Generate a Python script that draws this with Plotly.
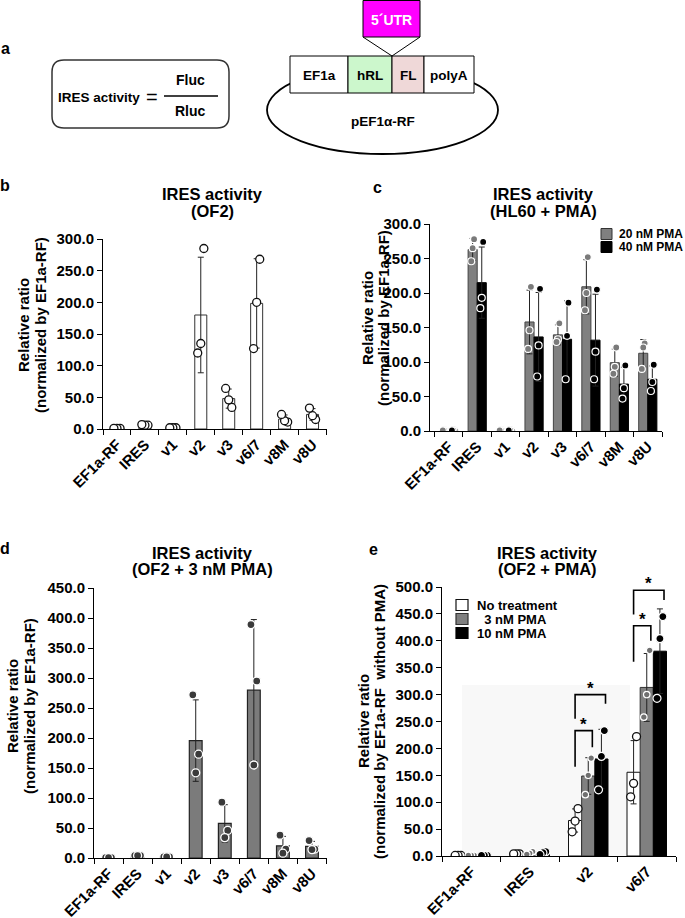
import numpy as np
import plotly.graph_objects as go

W, H = 685, 918

# ---------------- data (replicate values) ----------------
b_categories = ["EF1a-RF", "IRES", "v1", "v2", "v3", "v6/7", "v8M", "v8U"]
b_of2 = [[1, 1, 1], [6, 6, 7], [2, 2, 2], [285, 135, 120], [34, 46, 64],
         [268, 200, 127], [11, 13, 23], [15, 21, 33]]

c_categories = ["EF1a-RF", "IRES", "v1", "v2", "v3", "v6/7", "v8M", "v8U"]
c_series = ["20 nM PMA", "40 nM PMA"]
c_pma20 = [[1, 1, 1], [278, 265, 246], [1, 1, 1], [209, 146, 119], [156, 133, 129],
           [252, 200, 175], [121, 93, 83], [127, 121, 90]]
c_pma40 = [[1, 1, 1], [274, 193, 178], [1, 1, 1], [206, 124, 79], [186, 138, 75],
           [205, 115, 75], [95, 62, 47], [96, 71, 58]]

d_categories = ["EF1a-RF", "IRES", "v1", "v2", "v3", "v6/7", "v8M", "v8U"]
d_pma3 = [[0.5, 0.5, 0.5], [4, 4, 4], [2, 2, 2], [272, 173, 142], [93, 46, 34],
          [389, 295, 155], [38, 15, 8], [29, 15, 14]]

e_categories = ["EF1a-RF", "IRES", "v2", "v6/7"]
e_series = ["No treatment", "\u00a0\u00a03 nM PMA", "10 nM PMA"]
e_none = [[1, 1, 1], [4, 4, 4], [88, 65, 45], [222, 135, 110]]
e_pma3 = [[1, 1, 1], [8, 5, 3], [182, 150, 114], [382, 300, 258]]
e_pma10 = [[1, 1, 1], [8, 6, 3], [233, 185, 123], [445, 404, 293]]

# significance brackets in panel e
e_sig_category = ["v2", "v2", "v6/7", "v6/7"]
e_sig_pair = [(0, 1), (0, 2), (0, 1), (0, 2)]
e_sig_top = [233, 300, 428, 494]
e_sig_left_foot = [166, 255, 361, 449]
e_sig_right_foot = [202, 283, 400, 476]
e_sig_label = ["*", "*", "*", "*"]

y_ticks_b = [0, 50, 100, 150, 200, 250, 300]
y_ticks_c = [0, 50, 100, 150, 200, 250, 300]
y_ticks_d = [0, 50, 100, 150, 200, 250, 300, 350, 400, 450]
y_ticks_e = [0, 50, 100, 150, 200, 250, 300, 350, 400, 450, 500]

# ---------------- helpers ----------------
FONT = "Liberation Sans, Arial, Helvetica, sans-serif"


def px(x):
    return x / W


def py(y):
    return 1 - y / H


fig = go.Figure()


def add_panel(xa, ya, cats, series, centers, width, bar_styles, pt_styles, jit):
    n = len(cats)
    xs = list(range(n))
    stats = []
    for reps in series:
        means = [float(np.mean(r)) for r in reps]
        sds = [float(np.std(r, ddof=1)) for r in reps]
        stats.append((means, sds))
    for (means, sds), cen, bs in zip(stats, centers, bar_styles):
        fig.add_trace(go.Bar(x=xs, y=means, width=width, offset=cen - width / 2,
                             marker=dict(color=bs[0], line=dict(color=bs[1], width=bs[2])),
                             xaxis=xa, yaxis=ya, showlegend=False, hoverinfo="skip"))
    for (means, sds), cen in zip(stats, centers):
        fig.add_trace(go.Scatter(x=[i + cen for i in xs], y=means, mode="markers",
                                 marker=dict(size=1, color="rgba(0,0,0,0)"),
                                 error_y=dict(type="data", array=sds, visible=True,
                                              color="#222", thickness=1, width=3),
                                 xaxis=xa, yaxis=ya, showlegend=False, hoverinfo="skip"))
    for reps, cen, ps in zip(series, centers, pt_styles):
        px_, py_ = [], []
        for i, r in enumerate(reps):
            for k, v in enumerate(r):
                px_.append(i + cen + jit[k % len(jit)])
                py_.append(v)
        fig.add_trace(go.Scatter(x=px_, y=py_, mode="markers",
                                 marker=dict(size=ps[2], color=ps[0],
                                             line=dict(color=ps[1], width=ps[3])),
                                 xaxis=xa, yaxis=ya, showlegend=False, hoverinfo="skip"))


# panel b
add_panel("x", "y", b_categories, [b_of2], [0.0], 0.43,
          [("white", "#333", 1)], [("white", "#111", 8, 1.3)], [0.11, 0.0, -0.11])
# panel c
add_panel("x2", "y2", c_categories, [c_pma20, c_pma40], [-0.16, 0.16], 0.32,
          [("#808080", "#444", 1), ("#000000", "#000", 1)],
          [("#7a7a7a", "white", 7, 1.2), ("#000000", "white", 7, 1.2)], [0.05, 0.0, -0.05])
# panel d
add_panel("x3", "y3", d_categories, [d_pma3], [0.0], 0.44,
          [("#7b7b7b", "#222", 1.2)], [("#3a3a3a", "white", 8, 1.3)], [-0.1, 0.1, 0.0])
# panel e
add_panel("x4", "y4", e_categories, [e_none, e_pma3, e_pma10], [-0.225, 0.0, 0.225], 0.225,
          [("white", "#111", 1), ("#808080", "#333", 1), ("#000000", "#000", 1)],
          [("white", "#111", 8, 1.3), ("#707070", "white", 6.5, 1.2), ("#000000", "white", 8, 1.2)],
          [0.05, 0.0, -0.05])

tickfont = dict(family=FONT, size=15, color="black", weight="bold")


def xaxis_cfg(dom, anchor, cats, rng):
    return dict(domain=dom, anchor=anchor, range=rng, tickmode="array", automargin=False,
                tickvals=list(range(len(cats))), ticktext=cats, tickangle=-45,
                ticks="", showline=True, linecolor="black", linewidth=1,
                showgrid=False, zeroline=False, tickfont=tickfont, fixedrange=True,
                minor=dict(ticks="outside", tickmode="linear", tick0=0.5, dtick=1,
                           ticklen=5, tickcolor="black", tickwidth=1, showgrid=False))


def yaxis_cfg(dom, anchor, ticks):
    return dict(domain=dom, anchor=anchor, range=[ticks[0], ticks[-1]], tickmode="array",
                automargin=False,
                tickvals=ticks, tickformat=".1f", ticks="outside", ticklen=5,
                tickcolor="black", showline=True, linecolor="black", linewidth=1,
                showgrid=False, zeroline=False, tickfont=tickfont, fixedrange=True)


fig.update_layout(
    template="none",
    width=W, height=H, autosize=False,
    margin=dict(l=0, r=0, t=0, b=0, pad=0),
    paper_bgcolor="white", plot_bgcolor="rgba(0,0,0,0)",
    barmode="overlay", showlegend=False,
    font=dict(family=FONT, color="black"),
    xaxis=xaxis_cfg([px(103), px(326.5)], "y", b_categories, [-0.5, 7.5]),
    yaxis=yaxis_cfg([py(429), py(239)], "x", y_ticks_b),
    xaxis2=xaxis_cfg([px(430), px(662)], "y2", c_categories, [-0.66, 7.5]),
    yaxis2=yaxis_cfg([py(431), py(224)], "x2", y_ticks_c),
    xaxis3=xaxis_cfg([px(94), px(326.5)], "y3", d_categories, [-0.5, 7.5]),
    yaxis3=yaxis_cfg([py(858), py(588)], "x3", y_ticks_d),
    xaxis4=xaxis_cfg([px(442), px(676)], "y4", e_categories, [-0.5, 3.5]),
    yaxis4=yaxis_cfg([py(856), py(587)], "x4", y_ticks_e),
)

shapes = []
annots = []


def text(x, y, s, size, family=FONT, color="black", bold=True, angle=0, xanchor="center"):
    annots.append(dict(x=px(x), y=py(y), xref="paper", yref="paper", text=s, showarrow=False,
                       xanchor=xanchor, yanchor="middle", textangle=angle,
                       font=dict(family=family, size=size, color=color,
                                 weight="bold" if bold else "normal")))


# faint background area in panel e
shapes.append(dict(type="rect", xref="paper", yref="paper", x0=px(462), x1=px(630),
                   y0=py(856), y1=py(685), fillcolor="#f8f8f8", line=dict(width=0), layer="below"))

# ---------------- schematic (panel a) ----------------
x0, x1, y0, y1, r = 52, 229, 60, 128, 12
path = (f"M {px(x0 + r)},{py(y0)} L {px(x1 - r)},{py(y0)} Q {px(x1)},{py(y0)} {px(x1)},{py(y0 + r)} "
        f"L {px(x1)},{py(y1 - r)} Q {px(x1)},{py(y1)} {px(x1 - r)},{py(y1)} "
        f"L {px(x0 + r)},{py(y1)} Q {px(x0)},{py(y1)} {px(x0)},{py(y1 - r)} "
        f"L {px(x0)},{py(y0 + r)} Q {px(x0)},{py(y0)} {px(x0 + r)},{py(y0)} Z")
shapes.append(dict(type="path", xref="paper", yref="paper", path=path,
                   line=dict(color="#333", width=1.5)))
shapes.append(dict(type="line", xref="paper", yref="paper", x0=px(164), x1=px(218),
                   y0=py(96), y1=py(96), line=dict(color="black", width=1.6)))
text(99, 98, "IRES activity", 13.5)
text(152, 97, "=", 20, bold=False)
text(190, 80, "Fluc", 14)
text(190.5, 111, "Rluc", 14)

shapes.append(dict(type="circle", xref="paper", yref="paper", x0=px(267), x1=px(498),
                   y0=py(154), y1=py(66), line=dict(color="black", width=1.8)))
boxes = [("EF1a", 290, 348, "white"), ("hRL", 348, 392, "#ccf7cc"),
         ("FL", 392, 424, "#efd8d8"), ("polyA", 424, 474, "white")]
for lab, bx0, bx1, col in boxes:
    shapes.append(dict(type="rect", xref="paper", yref="paper", x0=px(bx0), x1=px(bx1),
                       y0=py(93), y1=py(56), fillcolor=col, line=dict(color="black", width=1)))
    text((bx0 + bx1) / 2, 75, lab, 13.5)
shapes.append(dict(type="line", xref="paper", yref="paper", x0=px(363), x1=px(392),
                   y0=py(37), y1=py(56), line=dict(color="black", width=1)))
shapes.append(dict(type="line", xref="paper", yref="paper", x0=px(420), x1=px(392),
                   y0=py(37), y1=py(56), line=dict(color="black", width=1)))
shapes.append(dict(type="rect", xref="paper", yref="paper", x0=px(363), x1=px(420),
                   y0=py(37), y1=py(0.5), fillcolor="#ff00ff", line=dict(color="black", width=1)))
text(391.5, 20, "5\u00b4UTR", 14, color="white")
text(383, 121, "pEF1\u03b1-RF", 13.5)

# ---------------- panel letters ----------------
for lab, x, y in [("a", 5, 48), ("b", 5, 186), ("c", 377, 187), ("d", 5, 548), ("e", 373, 549)]:
    text(x, y, lab, 16)

# ---------------- titles ----------------
text(212, 194, "IRES activity", 16.5)
text(212, 211, "(OF2)", 16.5)
text(543, 194, "IRES activity", 16.5)
text(543, 211, "(HL60 + PMA)", 16.5)
text(202, 553, "IRES activity", 16.5)
text(202, 569, "(OF2 + 3 nM PMA)", 16.5)
text(547, 553, "IRES activity", 16.5)
text(547, 569, "(OF2 + PMA)", 16.5)

# ---------------- y axis titles ----------------
text(24, 325, "Relative ratio", 15, angle=-90)
text(41, 325, "(normalized by EF1a-RF)", 15, angle=-90)
text(367, 318, "Relative ratio", 15, angle=-90)
text(383, 318, "(normalized by EF1a-RF)", 15, angle=-90)
text(12, 706, "Relative ratio", 15, angle=-90)
text(29, 706, "(normalized by EF1a-RF)", 15, angle=-90)
text(363, 721, "Relative ratio", 15, angle=-90)
text(379, 721, "(normalized by EF1a-RF  without PMA)", 15, angle=-90)

# ---------------- manual legends ----------------
c_leg_colors = [("#808080", "#333"), ("#000000", "#000")]
for k, (name, (fc, lc)) in enumerate(zip(c_series, c_leg_colors)):
    yc = 234 + 13 * k
    shapes.append(dict(type="rect", xref="paper", yref="paper", x0=px(601), x1=px(612),
                       y0=py(yc + 5.5), y1=py(yc - 5.5), fillcolor=fc, line=dict(color=lc, width=1)))
    text(617, yc, name, 12, xanchor="left")

e_leg_colors = [("white", "#111"), ("#808080", "#333"), ("#000000", "#000")]
for k, (name, (fc, lc)) in enumerate(zip(e_series, e_leg_colors)):
    yc = 605 + 14 * k
    shapes.append(dict(type="rect", xref="paper", yref="paper", x0=px(456), x1=px(468),
                       y0=py(yc + 5.5), y1=py(yc - 5.5), fillcolor=fc, line=dict(color=lc, width=1.2)))
    text(475, yc, name, 13, xanchor="left")

# ---------------- significance brackets (panel e) ----------------
e_centers = [-0.225, 0.0, 0.225]
for cat, (a, b), top, lf, rf, lab in zip(e_sig_category, e_sig_pair, e_sig_top,
                                         e_sig_left_foot, e_sig_right_foot, e_sig_label):
    ci = e_categories.index(cat)
    xl = ci + e_centers[a]
    xr = ci + e_centers[b] + 0.07
    shapes.append(dict(type="path", xref="x4", yref="y4",
                       path=f"M {xl},{lf} L {xl},{top} L {xr},{top} L {xr},{rf}",
                       line=dict(color="black", width=1.6)))
    annots.append(dict(x=(xl + xr) / 2, y=top, xref="x4", yref="y4", text=lab,
                       showarrow=False, yanchor="bottom", yshift=-5,
                       font=dict(family=FONT, size=17, color="black", weight="bold")))

fig.update_layout(shapes=shapes, annotations=annots)
fig.write_html("out.html", config={"displayModeBar": False, "staticPlot": True},
               post_script="document.body.style.margin='0px';document.body.style.padding='0px';")
